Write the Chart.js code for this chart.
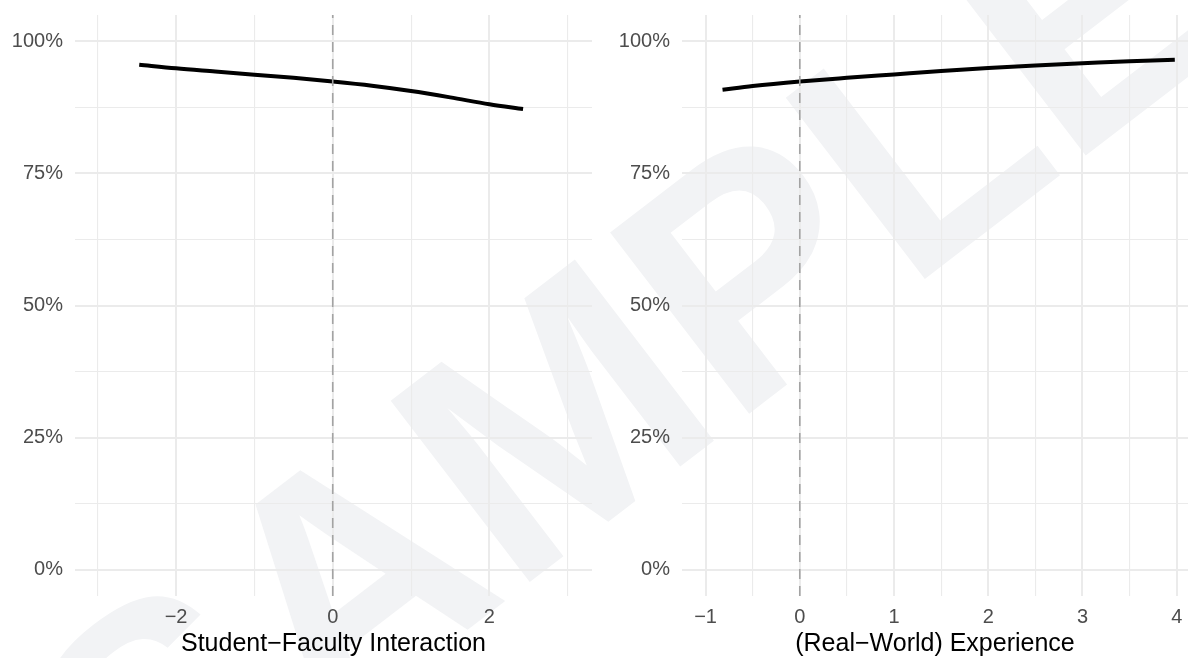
<!DOCTYPE html>
<html><head><meta charset="utf-8">
<script src="https://cdn.jsdelivr.net/npm/chart.js@4.4.0/dist/chart.umd.min.js"></script>
<style>
html,body{margin:0;padding:0;background:#fff;}
#wrap{position:relative;width:1188px;height:658px;overflow:hidden;background:#fff;}
#wm{position:absolute;left:625px;top:364px;transform:translate(-50%,-50%) rotate(-37.5deg);font-family:"Liberation Sans",Arial,sans-serif;font-weight:bold;font-size:332px;color:#f2f3f5;white-space:nowrap;line-height:1;z-index:0;}
canvas{position:absolute;top:0;z-index:1;}
#c1{left:0;} #c2{left:600px;}
</style></head><body>
<div id="wrap"><div id="wm">SAMPLE</div>
<canvas id="c1" width="592" height="658"></canvas>
<canvas id="c2" width="588" height="658"></canvas>
</div>
<script>
// ---- data ----
const leftX = [-2.47, -2, -1.5, -1, -0.5, 0, 0.5, 1, 1.5, 2, 2.43];
const leftY = [0.956, 0.949, 0.943, 0.937, 0.931, 0.924, 0.916, 0.906, 0.894, 0.881, 0.872];
const rightX = [-0.82, -0.5, 0, 0.5, 1, 1.5, 2, 2.5, 3, 3.5, 3.98];
const rightY = [0.9085, 0.9155, 0.924, 0.931, 0.9375, 0.944, 0.9495, 0.9545, 0.9585, 0.9625, 0.9655];
const leftTitle = 'Student\u2212Faculty Interaction';
const rightTitle = '(Real\u2212World) Experience';
const leftXGrid = [-3, -2, -1, 0, 1, 2, 3];
const leftXLabelValues = [-2, 0, 2];
const leftXLabels = ['\u22122', '0', '2'];
const rightXGrid = [-1, -0.5, 0, 0.5, 1, 1.5, 2, 2.5, 3, 3.5, 4];
const rightXLabelValues = [-1, 0, 1, 2, 3, 4];
const rightXLabels = ['\u22121', '0', '1', '2', '3', '4'];
const yGrid = [0, 0.125, 0.25, 0.375, 0.5, 0.625, 0.75, 0.875, 1];
const yLabelValues = [0, 0.25, 0.5, 0.75, 1];
const yLabels = ['0%', '25%', '50%', '75%', '100%'];
const refX = 0;
const yMin = -0.05, yMax = 1.05;

Chart.defaults.font.family = '"Liberation Sans", Arial, Helvetica, sans-serif';

function findLabel(vals, labels, v) {
  const i = vals.findIndex(a => Math.abs(a - v) < 1e-9);
  return i >= 0 ? labels[i] : '';
}
function isMajor(vals, v) { return vals.some(a => Math.abs(a - v) < 1e-9); }

function makeChart(id, xs, ys, xGrid, xLabVals, xLabs, xMin, xMax, yWidth, title) {
  const gridColor = '#ebebeb';
  return new Chart(document.getElementById(id), {
    type: 'scatter',
    data: {
      datasets: [
        {
          data: [{x: refX, y: yMin}, {x: refX, y: yMax}],
          showLine: true, borderColor: '#a3a3a3', borderWidth: 1.6,
          borderDash: [10, 7], pointRadius: 0, order: 0
        },
        {
          data: xs.map((x, i) => ({x: x, y: ys[i]})),
          showLine: true, borderColor: '#000000', borderWidth: 4,
          pointRadius: 0, cubicInterpolationMode: 'monotone', order: 1
        }
      ]
    },
    options: {
      responsive: false, animation: false, devicePixelRatio: 1,
      layout: {padding: {top: 15, left: 0, right: 0, bottom: 0}},
      plugins: {legend: {display: false}, tooltip: {enabled: false}},
      scales: {
        x: {
          type: 'linear', min: xMin, max: xMax,
          afterBuildTicks: s => { s.ticks = xGrid.map(v => ({value: v})); },
          afterFit: s => { s.height = 62; s.paddingLeft = 0; s.paddingRight = 0; },
          border: {display: false},
          grid: {
            color: gridColor, drawTicks: false,
            lineWidth: c => (c.tick && isMajor(xLabVals, c.tick.value)) ? 2 : 1.1
          },
          ticks: {
            autoSkip: false, maxRotation: 0, padding: 9, color: '#4d4d4d',
            font: {size: 20},
            callback: v => findLabel(xLabVals, xLabs, v)
          },
          title: {
            display: true, text: title, color: '#000000',
            font: {size: 25, lineHeight: 1}, padding: {top: 0, bottom: 1}
          }
        },
        y: {
          type: 'linear', min: yMin, max: yMax,
          afterBuildTicks: s => { s.ticks = yGrid.map(v => ({value: v})); },
          afterFit: s => { s.width = yWidth; s.paddingTop = 0; s.paddingBottom = 0; },
          border: {display: false},
          grid: {
            color: gridColor, drawTicks: false,
            lineWidth: c => (c.tick && isMajor(yLabelValues, c.tick.value)) ? 2 : 1.1
          },
          ticks: {
            autoSkip: false, padding: 12, color: '#4d4d4d',
            font: {size: 20},
            callback: v => findLabel(yLabelValues, yLabels, v)
          }
        }
      }
    }
  });
}

makeChart('c1', leftX, leftY, leftXGrid, leftXLabelValues, leftXLabels, -3.29, 3.31, 75, leftTitle);
makeChart('c2', rightX, rightY, rightXGrid, rightXLabelValues, rightXLabels, -1.25, 4.12, 82, rightTitle);
</script>
</body></html>
